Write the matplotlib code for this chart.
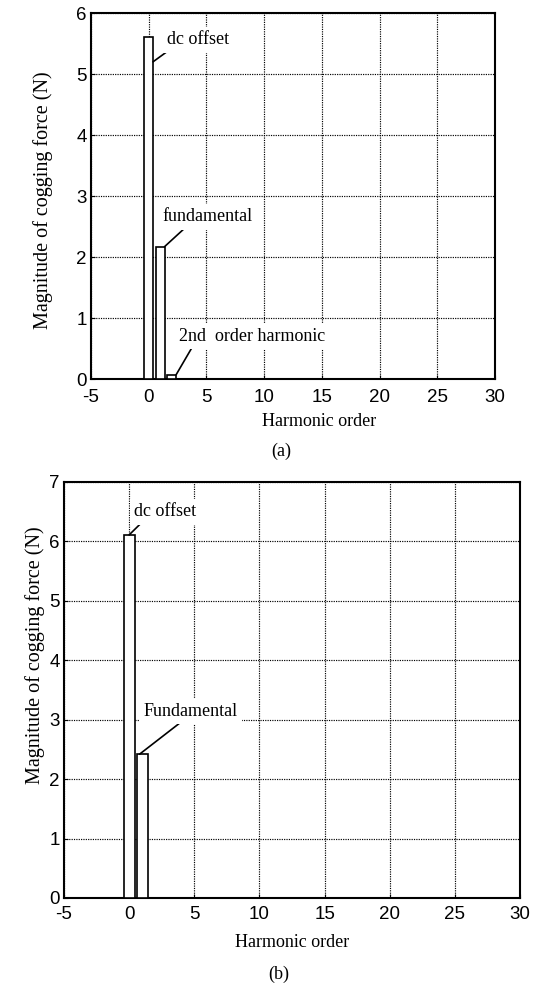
import matplotlib
matplotlib.use("Agg")
import matplotlib.pyplot as plt

# ---- data ----
orders_a = [0, 1, 2]
values_a = [5.6, 2.17, 0.07]
labels_a = ["dc offset", "fundamental", "2nd  order harmonic"]

orders_b = [0, 1]
values_b = [6.11, 2.42]
labels_b = ["dc offset", "Fundamental"]

xticks = [-5, 0, 5, 10, 15, 20, 25, 30]
yticks_a = [0, 1, 2, 3, 4, 5, 6]
yticks_b = [0, 1, 2, 3, 4, 5, 6, 7]
xlabel = "Harmonic order"
ylabel = "Magnitude of cogging force (N)"
captions = ["(a)", "(b)"]

SERIF = "Liberation Serif"
SANS = "Liberation Sans"
W, H = 534, 984

fig = plt.figure(figsize=(W / 100, H / 100), dpi=100)


def px_rect(l, t, r, b):
    return [l / W, 1 - b / H, (r - l) / W, (b - t) / H]


def style_axes(ax, yticks, xpad):
    ax.set_xlim(-5, 30)
    ax.set_ylim(yticks[0], yticks[-1])
    ax.set_xticks(xticks)
    ax.set_yticks(yticks)
    ax.set_xticklabels([str(t) for t in xticks], fontfamily=SANS, fontsize=13.5)
    ax.set_yticklabels([str(t) for t in yticks], fontfamily=SANS, fontsize=13.5)
    ax.tick_params(direction="in", length=3, width=0.8, top=False, right=False)
    ax.tick_params(axis="y", pad=3)
    ax.tick_params(axis="x", pad=xpad)
    ax.grid(True, color="black", linestyle=(0, (1, 1)), linewidth=0.85)
    ax.set_axisbelow(True)
    for s in ax.spines.values():
        s.set_linewidth(1.5)


ann_kw = dict(fontfamily=SERIF, fontsize=13, ha="left", va="center",
              bbox=dict(boxstyle="square,pad=0.25", fc="white", ec="none"))

# ---- panel (a) ----
ax1 = fig.add_axes(px_rect(91, 13, 495, 379))
w1 = 0.75
ax1.bar(orders_a, values_a, width=w1, facecolor="white", edgecolor="black",
        linewidth=1.2, zorder=3)
style_axes(ax1, yticks_a, 7)
text_pos_a = [(1.55, 5.56), (1.21, 2.66), (2.62, 0.70)]
xy_a = [(orders_a[0] + w1 / 2, values_a[0] - 0.4),
        (orders_a[1] + w1 / 2, values_a[1]),
        (orders_a[2] + w1 / 2, values_a[2])]
rel_a = [(0.08, 0.0), (0.28, 0.0), (0.1, 0.0)]
for lab, tp, xy, rp in zip(labels_a, text_pos_a, xy_a, rel_a):
    ax1.annotate(lab, xy=xy, xytext=tp, textcoords="data", zorder=5,
                 arrowprops=dict(arrowstyle="-", color="black", lw=1.2,
                                 relpos=rp, shrinkA=0, shrinkB=0, patchA=None),
                 **ann_kw)
ax1.set_xlabel(xlabel, fontfamily=SERIF, fontsize=13, va="center")
ax1.xaxis.set_label_coords((319 - 91) / 404, (379 - 421) / 366)
ax1.set_ylabel(ylabel, fontfamily=SERIF, fontsize=14.5, va="center")
ax1.yaxis.set_label_coords((43 - 91) / 404, (379 - 200) / 366)

# ---- panel (b) ----
ax2 = fig.add_axes(px_rect(64, 482, 520, 898))
w2 = 0.85
ax2.bar(orders_b, values_b, width=w2, facecolor="white", edgecolor="black",
        linewidth=1.2, zorder=3)
style_axes(ax2, yticks_b, 5.5)
text_pos_b = [(0.40, 6.50), (1.09, 3.14)]
xy_b = [(orders_b[0], values_b[0]), (orders_b[1] - 0.2, values_b[1])]
rel_b = [(0.24, 0.3), (0.43, 0.0)]
for lab, tp, xy, rp in zip(labels_b, text_pos_b, xy_b, rel_b):
    ax2.annotate(lab, xy=xy, xytext=tp, textcoords="data", zorder=5,
                 arrowprops=dict(arrowstyle="-", color="black", lw=1.2,
                                 relpos=rp, shrinkA=0, shrinkB=0, patchA=None),
                 **ann_kw)
ax2.set_xlabel(xlabel, fontfamily=SERIF, fontsize=13, va="center")
ax2.xaxis.set_label_coords(0.5, (898 - 942.6) / 416)
ax2.set_ylabel(ylabel, fontfamily=SERIF, fontsize=14.5, va="center")
ax2.yaxis.set_label_coords((35 - 64) / 456, (898 - 655) / 416)

# ---- captions ----
fig.text(281 / W, 1 - 451 / H, captions[0], fontfamily=SERIF, fontsize=13,
         ha="center", va="center")
fig.text(279 / W, 1 - 974.7 / H, captions[1], fontfamily=SERIF, fontsize=13,
         ha="center", va="center")

fig.savefig("out.png", dpi=100)
